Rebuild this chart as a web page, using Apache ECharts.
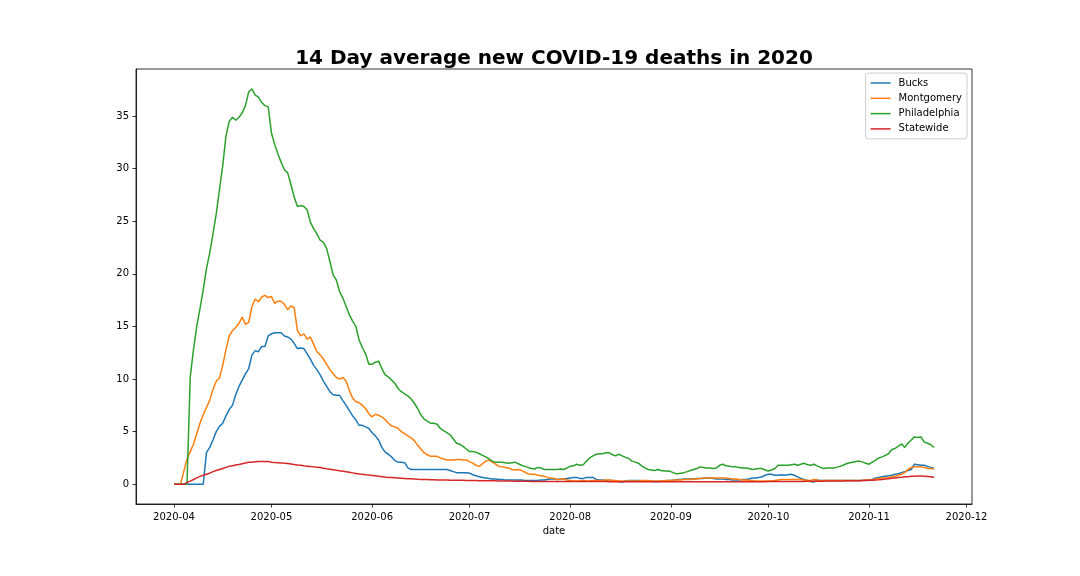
<!DOCTYPE html>
<html><head><meta charset="utf-8">
<script src="https://cdn.jsdelivr.net/npm/echarts@6/dist/echarts.min.js"></script>
<style>html,body{margin:0;background:#fff}#c{width:1080px;height:576px}</style>
</head><body><div id="c"></div>
<script>
// ---- data (daily values from 2020-04-01) ----
const startDate = [2020, 4, 1];
const seriesNames = ['Bucks', 'Montgomery', 'Philadelphia', 'Statewide'];
const bucks = [
0,0,0,0,0,0,0,0,0,0,
3.0,3.5,4.2,5.0,5.5,5.8,6.5,7.1,7.5,8.5,
9.3,9.9,10.5,11.0,12.3,12.7,12.6,13.1,13.1,14.1,
14.3,14.4,14.4,14.4,14.1,14.0,13.8,13.4,12.9,12.95,
12.9,12.4,11.9,11.3,10.9,10.4,9.8,9.3,8.8,8.5,
8.45,8.45,7.95,7.5,7.0,6.5,6.1,5.6,5.6,5.45,
5.3,4.9,4.6,4.2,3.5,3.05,2.85,2.6,2.25,2.1,
2.1,2.05,1.55,1.4,1.4,1.4,1.4,1.4,1.4,1.4,
1.4,1.4,1.4,1.4,1.4,1.3,1.2,1.1,1.1,1.1,
1.1,1.05,0.9,0.8,0.7,0.65,0.6,0.55,0.5,0.5,
0.45,0.45,0.4,0.4,0.4,0.4,0.4,0.4,0.35,0.35,
0.35,0.35,0.35,0.4,0.4,0.45,0.5,0.5,0.45,0.5,
0.5,0.55,0.6,0.65,0.65,0.55,0.55,0.65,0.65,0.65,
0.45,0.4,0.4,0.35,0.35,0.35,0.3,0.25,0.2,0.3,
0.35,0.35,0.35,0.35,0.3,0.3,0.3,0.3,0.25,0.25,
0.3,0.3,0.35,0.35,0.4,0.45,0.45,0.5,0.5,0.5,
0.5,0.55,0.55,0.55,0.6,0.6,0.55,0.5,0.5,0.5,
0.45,0.45,0.4,0.4,0.4,0.45,0.45,0.5,0.6,0.6,
0.65,0.7,0.85,0.95,0.95,0.85,0.85,0.9,0.85,0.9,
0.95,0.85,0.7,0.55,0.45,0.35,0.25,0.2,0.4,0.35,
0.35,0.35,0.35,0.35,0.35,0.35,0.35,0.35,0.35,0.35,
0.35,0.35,0.35,0.4,0.4,0.45,0.6,0.65,0.7,0.75,
0.8,0.85,0.95,1.0,1.1,1.2,1.3,1.4,1.9,1.85,
1.8,1.8,1.7,1.6,1.5
];
const montgomery = [
0,0,0,1.2,2.4,3.1,3.8,4.8,5.8,6.6,
7.3,8.0,9.0,9.8,10.1,11.3,12.8,14.1,14.6,14.9,
15.3,15.9,15.2,15.4,16.9,17.6,17.35,17.8,17.95,17.75,
17.85,17.2,17.4,17.4,17.1,16.6,16.95,16.8,14.6,14.1,
14.3,13.8,14.0,13.3,12.6,12.3,11.9,11.4,10.9,10.5,
10.15,10.0,10.15,9.8,8.9,8.2,7.85,7.75,7.5,7.2,
6.7,6.4,6.65,6.55,6.4,6.15,5.8,5.55,5.45,5.3,
5.0,4.8,4.6,4.4,4.15,3.7,3.35,3.0,2.8,2.65,
2.65,2.65,2.5,2.4,2.3,2.3,2.3,2.35,2.35,2.3,
2.3,2.15,2.0,1.8,1.7,1.95,2.2,2.3,2.1,1.9,
1.7,1.65,1.6,1.55,1.4,1.35,1.4,1.3,1.15,1.0,
0.95,0.95,0.85,0.8,0.75,0.65,0.6,0.55,0.45,0.5,
0.5,0.4,0.35,0.3,0.3,0.3,0.35,0.3,0.3,0.35,
0.35,0.35,0.35,0.4,0.4,0.35,0.35,0.3,0.3,0.3,
0.3,0.3,0.3,0.3,0.35,0.35,0.35,0.3,0.3,0.3,
0.3,0.35,0.35,0.35,0.4,0.4,0.4,0.45,0.45,0.45,
0.5,0.5,0.55,0.6,0.6,0.6,0.6,0.6,0.6,0.6,
0.6,0.55,0.5,0.5,0.45,0.4,0.4,0.35,0.35,0.3,
0.3,0.3,0.3,0.3,0.3,0.35,0.4,0.45,0.45,0.45,
0.45,0.45,0.45,0.45,0.4,0.35,0.35,0.45,0.4,0.3,
0.35,0.35,0.35,0.35,0.35,0.35,0.35,0.35,0.35,0.35,
0.35,0.35,0.35,0.4,0.4,0.4,0.5,0.55,0.6,0.6,
0.65,0.7,0.75,0.85,0.95,1.1,1.4,1.6,1.65,1.65,
1.65,1.6,1.5,1.5,1.45
];
const philadelphia = [
0,0,0,0,0,10.2,12.8,15.0,16.7,18.5,
20.5,22.0,23.8,25.7,28.0,30.3,33.1,34.5,34.9,34.6,
34.9,35.3,36.0,37.3,37.6,37.0,36.8,36.3,36.0,35.9,
33.4,32.3,31.4,30.6,29.9,29.6,28.5,27.3,26.4,26.5,
26.4,26.1,24.9,24.3,23.8,23.2,23.0,22.4,21.2,19.9,
19.4,18.3,17.7,16.9,16.1,15.5,15.0,13.7,13.0,12.4,
11.4,11.4,11.6,11.7,11.0,10.4,10.2,9.9,9.6,9.1,
8.8,8.6,8.4,8.1,7.7,7.2,6.6,6.2,6.0,5.8,
5.8,5.7,5.3,5.1,4.9,4.7,4.3,3.9,3.8,3.6,
3.35,3.1,3.1,3.05,2.9,2.75,2.6,2.4,2.2,2.1,
2.1,2.1,2.05,2.0,2.05,2.1,1.95,1.8,1.7,1.6,
1.5,1.45,1.6,1.55,1.4,1.4,1.4,1.4,1.4,1.45,
1.4,1.55,1.7,1.75,1.9,1.8,1.85,2.2,2.5,2.7,
2.85,2.9,2.9,3.0,3.0,2.8,2.7,2.85,2.7,2.55,
2.45,2.2,2.1,2.0,1.75,1.55,1.4,1.35,1.3,1.4,
1.3,1.25,1.25,1.2,1.05,1.0,1.05,1.1,1.2,1.3,
1.4,1.5,1.65,1.6,1.55,1.55,1.5,1.55,1.8,1.9,
1.75,1.7,1.65,1.65,1.6,1.55,1.55,1.5,1.4,1.45,
1.5,1.5,1.35,1.25,1.35,1.5,1.8,1.8,1.8,1.8,
1.85,1.9,1.8,1.9,2.0,1.85,1.8,1.9,1.75,1.6,
1.5,1.55,1.55,1.55,1.6,1.7,1.8,1.95,2.05,2.1,
2.15,2.2,2.1,2.0,1.9,2.1,2.3,2.5,2.6,2.75,
2.9,3.3,3.4,3.6,3.85,3.5,3.9,4.2,4.5,4.45,
4.5,4.0,3.9,3.75,3.5
];
const statewide = [
0,0,0,0,0.15,0.3,0.45,0.6,0.75,0.85,
0.95,1.05,1.2,1.3,1.4,1.5,1.6,1.7,1.75,1.82,
1.88,1.95,2.02,2.08,2.1,2.13,2.15,2.15,2.17,2.15,
2.1,2.07,2.05,2.03,2.0,1.97,1.92,1.87,1.83,1.8,
1.75,1.72,1.68,1.65,1.62,1.58,1.53,1.47,1.42,1.37,
1.32,1.28,1.23,1.18,1.13,1.08,1.03,0.98,0.94,0.9,
0.87,0.84,0.8,0.76,0.72,0.68,0.65,0.63,0.61,0.59,
0.57,0.55,0.53,0.51,0.49,0.47,0.46,0.45,0.44,0.43,
0.42,0.41,0.41,0.4,0.4,0.39,0.39,0.38,0.37,0.37,
0.36,0.36,0.35,0.35,0.34,0.34,0.33,0.33,0.32,0.32,
0.31,0.31,0.3,0.3,0.3,0.29,0.29,0.28,0.28,0.28,
0.27,0.27,0.27,0.26,0.26,0.26,0.26,0.25,0.25,0.25,
0.25,0.25,0.25,0.25,0.25,0.25,0.25,0.25,0.25,0.25,
0.25,0.25,0.25,0.25,0.24,0.24,0.24,0.24,0.24,0.24,
0.24,0.24,0.24,0.24,0.24,0.24,0.24,0.24,0.23,0.23,
0.23,0.23,0.23,0.23,0.23,0.23,0.23,0.23,0.23,0.23,
0.23,0.23,0.23,0.23,0.23,0.23,0.23,0.23,0.23,0.23,
0.23,0.23,0.23,0.23,0.23,0.24,0.24,0.24,0.24,0.24,
0.24,0.24,0.24,0.25,0.25,0.25,0.25,0.25,0.26,0.26,
0.26,0.26,0.27,0.27,0.27,0.28,0.28,0.28,0.29,0.29,
0.29,0.3,0.3,0.3,0.31,0.31,0.31,0.32,0.32,0.33,
0.33,0.34,0.35,0.36,0.37,0.38,0.4,0.42,0.45,0.5,
0.53,0.57,0.6,0.63,0.66,0.7,0.72,0.75,0.77,0.78,
0.78,0.76,0.73,0.7,0.66
];
const xTickLabels = ['2020-04','2020-05','2020-06','2020-07','2020-08','2020-09','2020-10','2020-11','2020-12'];
const yTickLabels = [0, 5, 10, 15, 20, 25, 30, 35];
const colors = ['#1f77b4', '#ff7f0e', '#2ca02c', '#d62728'];

// ---- build ----
const DAY = 864e5;
const t0 = Date.UTC(startDate[0], startDate[1] - 1, startDate[2]);
const dates = bucks.map((_, i) => t0 + i * DAY);
const allSeries = [bucks, montgomery, philadelphia, statewide];
const xSpan = dates[dates.length - 1] - dates[0];
const xMin = dates[0] - 0.05 * xSpan, xMax = dates[dates.length - 1] + 0.05 * xSpan;
const yDataMax = Math.max(...allSeries.flat()), yDataMin = Math.min(...allSeries.flat());
const ySpan = yDataMax - yDataMin;
const yMin = yDataMin - 0.05 * ySpan, yMax = yDataMax + 0.05 * ySpan;
const xTickValues = xTickLabels.map(s => Date.UTC(+s.slice(0, 4), +s.slice(5) - 1, 1));
const fmt = v => { const d = new Date(v); return d.getUTCFullYear() + '-' + String(d.getUTCMonth() + 1).padStart(2, '0'); };

const FONT = 'DejaVu Sans';
const chart = echarts.init(document.getElementById('c'), null, {renderer: 'canvas'});
chart.setOption({
  animation: false,
  backgroundColor: '#fff',
  color: colors,
  textStyle: {fontFamily: FONT},
  title: {
    text: '14 Day average new COVID-19 deaths in 2020',
    left: 554, top: 49, textAlign: 'center', padding: 0,
    textStyle: {fontFamily: FONT, fontSize: 20, fontWeight: 'bold', color: '#000'}
  },
  grid: {left: 136, right: 108, top: 69, bottom: 72, show: true, borderColor: '#000', borderWidth: 0.8, backgroundColor: 'transparent'},
  legend: {
    orient: 'vertical', right: 113, top: 73,
    padding: [5, 5, 5, 5], itemGap: 5.3, itemWidth: 20, itemHeight: 1.5, icon: 'rect',
    borderColor: '#cccccc', borderWidth: 1, borderRadius: 3, backgroundColor: 'rgba(255,255,255,0.8)',
    textStyle: {fontFamily: FONT, fontSize: 10, color: '#000', lineHeight: 10, padding: [0, 0, 0, 3]},
    data: seriesNames
  },
  xAxis: {
    type: 'value', min: xMin, max: xMax,
    name: 'date', nameLocation: 'middle', nameGap: 21,
    nameTextStyle: {fontFamily: FONT, fontSize: 10, color: '#000'},
    axisLine: {show: true, onZero: false, lineStyle: {color: '#000', width: 0.8}},
    axisTick: {show: true, length: 3.5, lineStyle: {color: '#000', width: 0.8}, customValues: xTickValues},
    axisLabel: {fontFamily: FONT, fontSize: 10, color: '#000', margin: 8, customValues: xTickValues, formatter: fmt},
    splitLine: {show: false}
  },
  yAxis: {
    type: 'value', min: yMin, max: yMax,
    axisLine: {show: true, onZero: false, lineStyle: {color: '#000', width: 0.8}},
    axisTick: {show: true, length: 3.5, lineStyle: {color: '#000', width: 0.8}, customValues: yTickLabels},
    axisLabel: {fontFamily: FONT, fontSize: 10, color: '#000', margin: 7, customValues: yTickLabels},
    splitLine: {show: false}
  },
  series: seriesNames.map((name, k) => ({
    name, type: 'line', showSymbol: false, symbol: 'none',
    lineStyle: {width: 1.5, color: colors[k]},
    itemStyle: {color: colors[k]},
    data: dates.map((t, i) => [t, allSeries[k][i]])
  }))
});
</script>
</body></html>
